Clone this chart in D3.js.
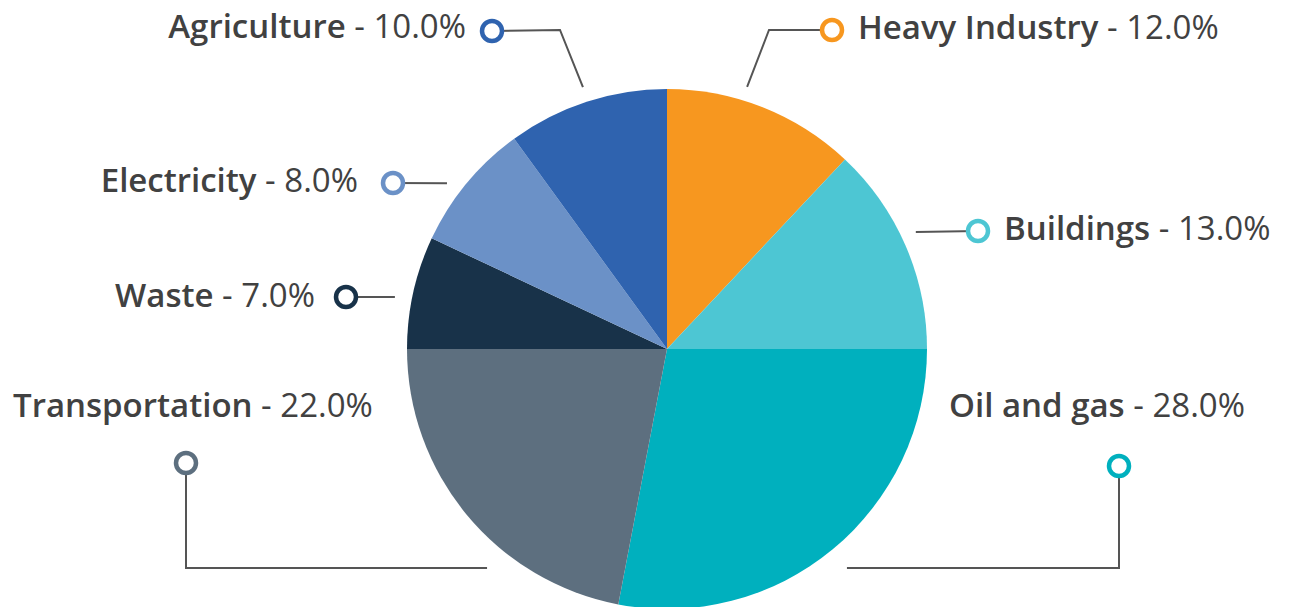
<!DOCTYPE html>
<html>
<head>
<meta charset="utf-8">
<script src="https://cdn.jsdelivr.net/npm/d3@7"></script>
<style>
  html, body { margin: 0; padding: 0; background: #fff; }
  #chart { width: 1292px; height: 607px; }
  text { font-family: "Open Sans", Lato, sans-serif; }
</style>
</head>
<body>
<div id="chart"></div>
<script>
const categories = ['Heavy Industry', 'Buildings', 'Oil and gas', 'Transportation', 'Waste', 'Electricity', 'Agriculture'];
const shares = [12.0, 13.0, 28.0, 22.0, 7.0, 8.0, 10.0];
const colors = ['#f7971f', '#4dc6d3', '#00b0be', '#5d6f7f', '#183249', '#6b91c7', '#2f63af'];

// label placement around the pie (annotation layout only)
const labelLayout = {
  'Heavy Industry': { ang: 17, r: 274, elbow: [769, 30], marker: [832, 30], tx: 858, ty: 39, anchor: 'start' },
  'Buildings':      { ang: 64.8, r: 275, elbow: null, marker: [978, 231], tx: 1004, ty: 240, anchor: 'start' },
  'Oil and gas':    { ang: 140.6, r: 283.5, elbow: [1119, 568], marker: [1119, 466], tx: 949, ty: 417, anchor: 'start' },
  'Transportation': { ang: 219.4, r: 283.5, elbow: [186, 568], marker: [186, 463], tx: 13, ty: 417, anchor: 'start' },
  'Waste':          { ang: 280.8, r: 277, elbow: null, marker: [346, 297], tx: 315, ty: 307, anchor: 'end' },
  'Electricity':    { ang: 307, r: 275.5, elbow: null, marker: [393, 183], tx: 358, ty: 192, anchor: 'end' },
  'Agriculture':    { ang: 342.2, r: 275, elbow: [560, 30], marker: [492, 31], tx: 466, ty: 38, anchor: 'end' }
};

const width = 1292, height = 607;
const cx = 667, cy = 349, radius = 260;

const data = categories.map((c, i) => ({ name: c, value: shares[i], color: colors[i] }));

const svg = d3.select('#chart').append('svg')
  .attr('width', width)
  .attr('height', height);

const pie = d3.pie().sort(null).value(d => d.value);
const arc = d3.arc().innerRadius(0).outerRadius(radius);

const pieGroup = svg.append('g').attr('transform', `translate(${cx},${cy})`);
pieGroup.selectAll('path.slice')
  .data(pie(data))
  .enter()
  .append('path')
  .attr('class', 'slice')
  .attr('d', arc)
  .attr('fill', d => d.data.color);

const polar = (deg, r) => {
  const a = deg * Math.PI / 180;
  return [cx + r * Math.sin(a), cy - r * Math.cos(a)];
};

// leader lines
const line = d3.line();
data.forEach(d => {
  const l = labelLayout[d.name];
  const pts = [polar(l.ang, l.r)];
  if (l.elbow) pts.push(l.elbow);
  pts.push(l.marker);
  svg.append('path')
    .attr('d', line(pts))
    .attr('fill', 'none')
    .attr('stroke', '#555')
    .attr('stroke-width', 2);
});

// markers
data.forEach(d => {
  const l = labelLayout[d.name];
  svg.append('circle')
    .attr('cx', l.marker[0])
    .attr('cy', l.marker[1])
    .attr('r', 10)
    .attr('fill', '#fff')
    .attr('stroke', d.color)
    .attr('stroke-width', 4.5);
});

// labels
data.forEach(d => {
  const l = labelLayout[d.name];
  const t = svg.append('text')
    .attr('x', l.tx)
    .attr('y', l.ty)
    .attr('text-anchor', l.anchor)
    .attr('font-size', '33px')
    .attr('fill', '#414141');
  t.append('tspan').attr('font-weight', 600).text(d.name);
  t.append('tspan').attr('font-weight', 400).text(` - ${d.value.toFixed(1)}%`);
});
</script>
</body>
</html>
